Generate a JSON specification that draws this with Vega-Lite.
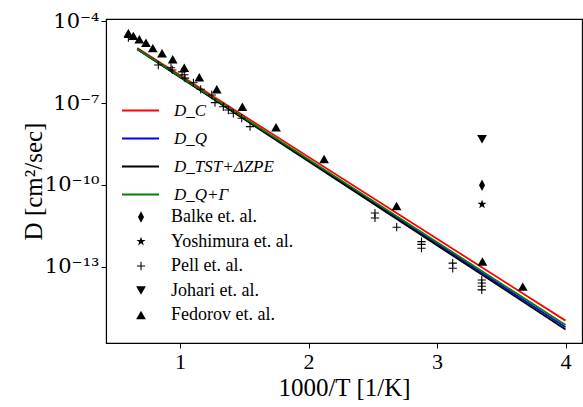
{
  "$schema": "https://vega.github.io/schema/vega-lite/v6.json",
  "width": 476,
  "height": 324,
  "autosize": {"type": "none"},
  "padding": {"left": 106, "top": 19, "right": 1, "bottom": 64},
  "background": "white",
  "config": {
    "font": "Liberation Serif",
    "view": {"stroke": "black", "strokeWidth": 1.1},
    "axis": {
      "grid": false,
      "domainColor": "black",
      "domainWidth": 1.1,
      "tickColor": "black",
      "tickWidth": 1,
      "tickSize": 5,
      "labelColor": "black",
      "titleColor": "black",
      "labelFont": "Liberation Serif",
      "titleFont": "Liberation Serif",
      "labelFontSize": 22,
      "titleFontSize": 25,
      "titleFontWeight": "normal",
      "labelPadding": 3
    }
  },
  "encoding": {
    "x": {
      "field": "x",
      "type": "quantitative",
      "scale": {"domain": [0.424, 4.128], "nice": false, "zero": false},
      "axis": {"values": [1, 2, 3, 4], "format": "d", "title": "1000/T [1/K]", "titlePadding": 3, "labelFlush": false}
    },
    "y": {
      "field": "D",
      "type": "quantitative",
      "scale": {"type": "log", "domain": [1.585e-16, 1.23e-4], "nice": false},
      "axis": {
        "values": [1e-4, 1e-7, 1e-10, 1e-13],
        "labelExpr": "datum.value > 5e-5 ? '10⁻⁴' : datum.value > 5e-8 ? '10⁻⁷' : datum.value > 5e-11 ? '10⁻¹⁰' : '10⁻¹³'",
        "labelFont": "DejaVu Serif",
        "labelFontSize": 21,
        "title": "D [cm²/sec]",
        "titlePadding": -2,
        "labelPadding": 2
      }
    }
  },
  "layer": [
    {
      "data": {
        "values": [
          {"model": "D_C", "x": 0.667, "D": 1.07e-5},
          {"model": "D_C", "x": 4.0, "D": 1.05e-15},
          {"model": "D_Q", "x": 0.667, "D": 9.77e-6},
          {"model": "D_Q", "x": 4.0, "D": 6.03e-16},
          {"model": "D_TST+ΔZPE", "x": 0.667, "D": 9.55e-6},
          {"model": "D_TST+ΔZPE", "x": 4.0, "D": 5.01e-16},
          {"model": "D_Q+Γ", "x": 0.667, "D": 9.77e-6},
          {"model": "D_Q+Γ", "x": 4.0, "D": 7.24e-16}
        ]
      },
      "mark": {"type": "line", "strokeWidth": 1.8, "clip": true},
      "encoding": {
        "color": {
          "field": "model",
          "type": "nominal",
          "scale": {"domain": ["D_C", "D_Q", "D_TST+ΔZPE", "D_Q+Γ"], "range": ["#ff0000", "#0000ff", "#000000", "#008000"]},
          "legend": {
            "orient": "none",
            "legendX": 15,
            "legendY": 72,
            "padding": 0,
            "title": null,
            "symbolType": "stroke",
            "symbolSize": 1369,
            "symbolStrokeWidth": 2,
            "labelFont": "Liberation Serif",
            "labelFontSize": 17,
            "labelFontStyle": "italic",
            "labelColor": "black",
            "labelOffset": 14,
            "rowPadding": -11.7,
            "labelLimit": 300
          }
        }
      }
    },
    {
      "data": {
        "values": [
          {"source": "Balke et. al.", "x": 3.35, "D": 9.77e-11},
          {"source": "Yoshimura et. al.", "x": 3.35, "D": 1.95e-11},
          {"source": "Johari et. al.", "x": 3.35, "D": 4.79e-9},
          {"source": "Fedorov et. al.", "x": 0.598, "D": 3.72e-5},
          {"source": "Fedorov et. al.", "x": 0.637, "D": 2.95e-5},
          {"source": "Fedorov et. al.", "x": 0.683, "D": 2.24e-5},
          {"source": "Fedorov et. al.", "x": 0.735, "D": 1.66e-5},
          {"source": "Fedorov et. al.", "x": 0.788, "D": 1.05e-5},
          {"source": "Fedorov et. al.", "x": 0.86, "D": 6.76e-6},
          {"source": "Fedorov et. al.", "x": 0.943, "D": 4.07e-6},
          {"source": "Fedorov et. al.", "x": 1.033, "D": 2.0e-6},
          {"source": "Fedorov et. al.", "x": 1.15, "D": 8.91e-7},
          {"source": "Fedorov et. al.", "x": 1.286, "D": 3.24e-7},
          {"source": "Fedorov et. al.", "x": 1.485, "D": 7.41e-8},
          {"source": "Fedorov et. al.", "x": 1.747, "D": 1.32e-8},
          {"source": "Fedorov et. al.", "x": 2.121, "D": 8.91e-10},
          {"source": "Fedorov et. al.", "x": 2.685, "D": 1.7e-11},
          {"source": "Fedorov et. al.", "x": 3.353, "D": 1.55e-13},
          {"source": "Fedorov et. al.", "x": 3.667, "D": 1.86e-14},
          {"source": "Pell et. al.", "x": 0.598, "D": 2.57e-5},
          {"source": "Pell et. al.", "x": 0.831, "D": 2.51e-6},
          {"source": "Pell et. al.", "x": 0.93, "D": 2.0e-6},
          {"source": "Pell et. al.", "x": 0.94, "D": 1.66e-6},
          {"source": "Pell et. al.", "x": 1.016, "D": 1.41e-6},
          {"source": "Pell et. al.", "x": 1.033, "D": 1.1e-6},
          {"source": "Pell et. al.", "x": 1.039, "D": 8.32e-7},
          {"source": "Pell et. al.", "x": 1.104, "D": 5.62e-7},
          {"source": "Pell et. al.", "x": 1.161, "D": 3.24e-7},
          {"source": "Pell et. al.", "x": 1.247, "D": 2.0e-7},
          {"source": "Pell et. al.", "x": 1.272, "D": 1.05e-7},
          {"source": "Pell et. al.", "x": 1.337, "D": 7.41e-8},
          {"source": "Pell et. al.", "x": 1.376, "D": 5.62e-8},
          {"source": "Pell et. al.", "x": 1.415, "D": 4.27e-8},
          {"source": "Pell et. al.", "x": 1.48, "D": 2.82e-8},
          {"source": "Pell et. al.", "x": 1.545, "D": 1.38e-8},
          {"source": "Pell et. al.", "x": 2.517, "D": 9.33e-12},
          {"source": "Pell et. al.", "x": 2.517, "D": 6.17e-12},
          {"source": "Pell et. al.", "x": 2.686, "D": 2.82e-12},
          {"source": "Pell et. al.", "x": 2.879, "D": 8.32e-13},
          {"source": "Pell et. al.", "x": 2.879, "D": 6.61e-13},
          {"source": "Pell et. al.", "x": 2.879, "D": 4.79e-13},
          {"source": "Pell et. al.", "x": 3.122, "D": 1.35e-13},
          {"source": "Pell et. al.", "x": 3.122, "D": 8.71e-14},
          {"source": "Pell et. al.", "x": 3.348, "D": 3.24e-14},
          {"source": "Pell et. al.", "x": 3.348, "D": 2.51e-14},
          {"source": "Pell et. al.", "x": 3.348, "D": 1.91e-14},
          {"source": "Pell et. al.", "x": 3.348, "D": 1.41e-14}
        ]
      },
      "mark": {"type": "point", "filled": true, "color": "black", "strokeWidth": 0, "size": 95, "opacity": 1},
      "encoding": {
        "shape": {
          "field": "source",
          "type": "nominal",
          "scale": {
            "domain": ["Balke et. al.", "Yoshimura et. al.", "Pell et. al.", "Johari et. al.", "Fedorov et. al."],
            "range": [
              "M0,-1.2L0.62,0L0,1.2L-0.62,0Z",
              "M0,-1L0.2245,-0.309L0.951,-0.309L0.363,0.118L0.588,0.809L0,0.382L-0.588,0.809L-0.363,0.118L-0.951,-0.309L-0.2245,-0.309Z",
              "M-0.85,-0.11L-0.11,-0.11L-0.11,-0.85L0.11,-0.85L0.11,-0.11L0.85,-0.11L0.85,0.11L0.11,0.11L0.11,0.85L-0.11,0.85L-0.11,0.11L-0.85,0.11Z",
              "triangle-down",
              "triangle-up"
            ]
          },
          "legend": {
            "orient": "none",
            "legendX": 26,
            "legendY": 189,
            "padding": 0,
            "title": null,
            "symbolFillColor": "black",
            "symbolStrokeWidth": 0,
            "symbolOpacity": 1,
            "symbolSize": 95,
            "labelFont": "Liberation Serif",
            "labelFontSize": 18,
            "labelColor": "black",
            "labelOffset": 21,
            "rowPadding": 6.5,
            "labelLimit": 300
          }
        }
      }
    }
  ]
}
